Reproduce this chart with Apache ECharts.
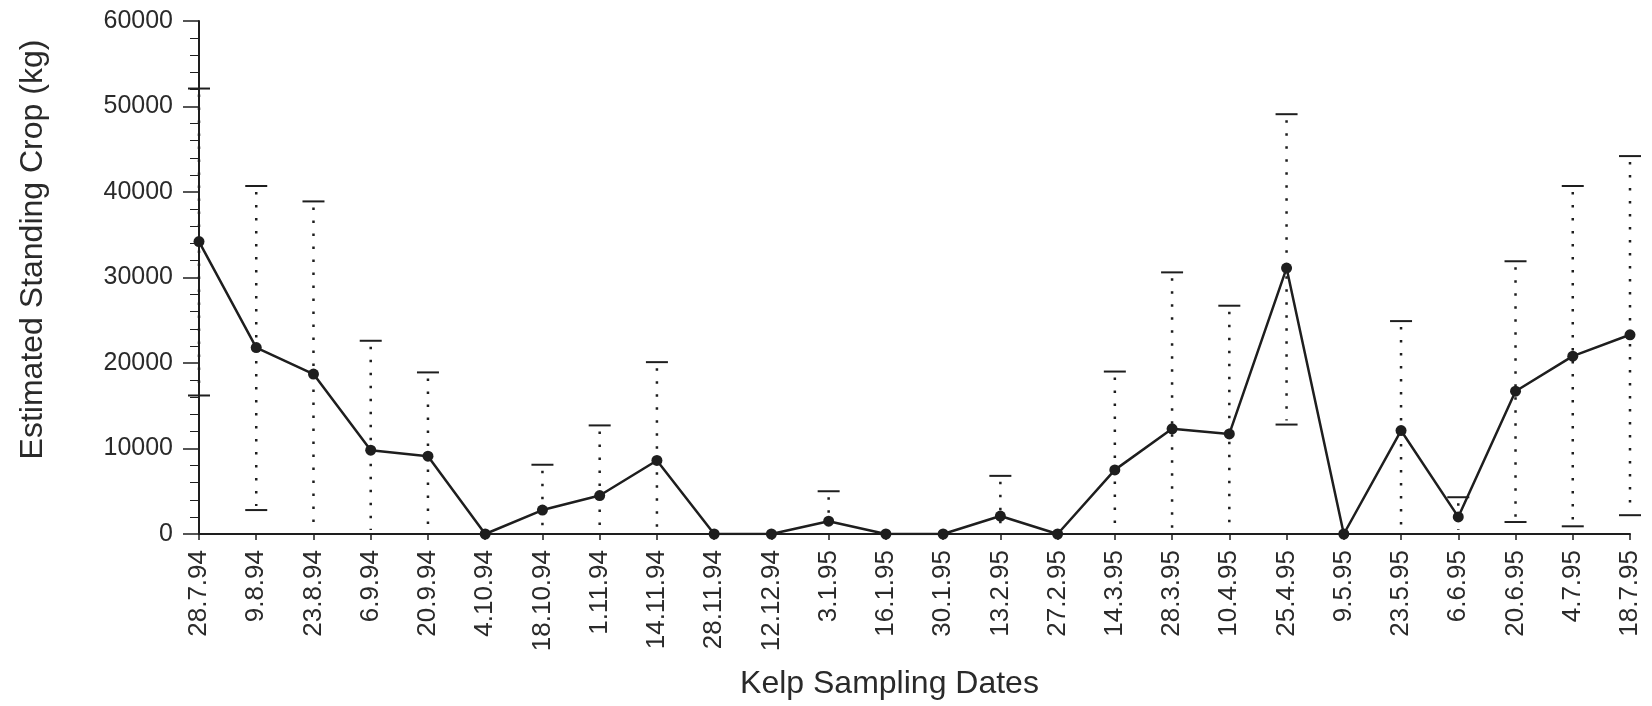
<!DOCTYPE html>
<html>
<head>
<meta charset="utf-8">
<script src="https://cdn.jsdelivr.net/npm/echarts@6/dist/echarts.min.js"></script>
<style>
html,body{margin:0;padding:0;background:#fff;}
#chart{width:1652px;height:706px;}
</style>
</head>
<body>
<div id="chart"></div>
<script>
const categories = ['28.7.94','9.8.94','23.8.94','6.9.94','20.9.94','4.10.94','18.10.94','1.11.94','14.11.94','28.11.94','12.12.94','3.1.95','16.1.95','30.1.95','13.2.95','27.2.95','14.3.95','28.3.95','10.4.95','25.4.95','9.5.95','23.5.95','6.6.95','20.6.95','4.7.95','18.7.95'];
const meanCrop = [34200,21800,18700,9800,9100,0,2800,4500,8600,0,0,1500,0,0,2100,0,7500,12300,11700,31100,0,12100,2000,16700,20800,23300];
const upperLimit = [52100,40700,38900,22600,18900,null,8100,12700,20100,null,null,5000,null,null,6800,null,19000,30600,26700,49100,null,24900,4300,31900,40700,44200];
const lowerLimit = [16200,2800,null,null,null,null,null,null,null,null,null,null,null,null,null,null,null,null,null,12800,null,null,null,1400,900,2200];
const yTicks = [0,10000,20000,30000,40000,50000,60000];

const ink = '#1e1e1e';
const font = '"Liberation Sans", Arial, Helvetica, sans-serif';
const errData = [];
categories.forEach((c,i)=>{
  if (upperLimit[i] != null) {
    errData.push([i, upperLimit[i], lowerLimit[i] == null ? 0 : lowerLimit[i], lowerLimit[i] == null ? 0 : 1]);
  }
});

const chart = echarts.init(document.getElementById('chart'), null, {renderer:'canvas'});
chart.setOption({
  animation:false,
  backgroundColor:'#ffffff',
  textStyle:{fontFamily:font, color:'#2a2a2a'},
  grid:{left:199, right:22, top:21, bottom:172, containLabel:false, outerBoundsMode:'none'},
  xAxis:{
    type:'category', data:categories, boundaryGap:false,
    axisLine:{show:true, lineStyle:{color:ink, width:2}},
    axisTick:{show:true, length:6, alignWithLabel:true, lineStyle:{color:ink, width:1.5}},
    axisLabel:{rotate:90, margin:16, fontSize:26, color:'#2a2a2a', interval:0, fontFamily:font},
    name:'Kelp Sampling Dates', nameLocation:'middle', nameGap:150, nameMoveOverlap:false,
    nameTextStyle:{fontSize:32, color:'#2a2a2a', align:'center', verticalAlign:'middle', padding:[0,50,0,0], fontFamily:font},
    splitLine:{show:false}
  },
  yAxis:{
    type:'value', min:yTicks[0], max:yTicks[yTicks.length-1], interval:10000,
    axisLine:{show:true, lineStyle:{color:ink, width:2}},
    axisTick:{show:true, length:16, lineStyle:{color:ink, width:1.5}},
    minorTick:{show:true, splitNumber:5, length:9, lineStyle:{color:ink, width:1}},
    axisLabel:{margin:26, fontSize:25, color:'#2a2a2a', fontFamily:font, formatter:function(v){return String(v);}},
    splitLine:{show:false},
    name:'Estimated Standing Crop (kg)', nameLocation:'middle', nameGap:150,
    nameTextStyle:{fontSize:32, color:'#2a2a2a', padding:[0,0,0,56], fontFamily:font}
  },
  series:[
    {
      type:'custom', name:'range', z:1, silent:true,
      data:errData,
      renderItem:function(params, api){
        const idx = api.value(0);
        const top = api.coord([idx, api.value(1)]);
        const bot = api.coord([idx, api.value(2)]);
        const hasLow = api.value(3) === 1;
        const children = [
          {type:'line', shape:{x1:top[0], y1:top[1]+6, x2:bot[0], y2:bot[1]-4},
           style:{stroke:ink, lineWidth:2.5, lineDash:[2.5,10.5], fill:null}},
          {type:'line', shape:{x1:top[0]-11, y1:top[1], x2:top[0]+11, y2:top[1]},
           style:{stroke:ink, lineWidth:2, fill:null}}
        ];
        if (hasLow) {
          children.push({type:'line', shape:{x1:bot[0]-11, y1:bot[1], x2:bot[0]+11, y2:bot[1]},
            style:{stroke:ink, lineWidth:2, fill:null}});
        }
        return {type:'group', children:children};
      }
    },
    {
      type:'line', name:'Standing crop', z:3, data:meanCrop,
      symbol:'circle', symbolSize:11, showSymbol:true,
      itemStyle:{color:ink},
      lineStyle:{color:ink, width:2.5}
    }
  ]
});
</script>
</body>
</html>
